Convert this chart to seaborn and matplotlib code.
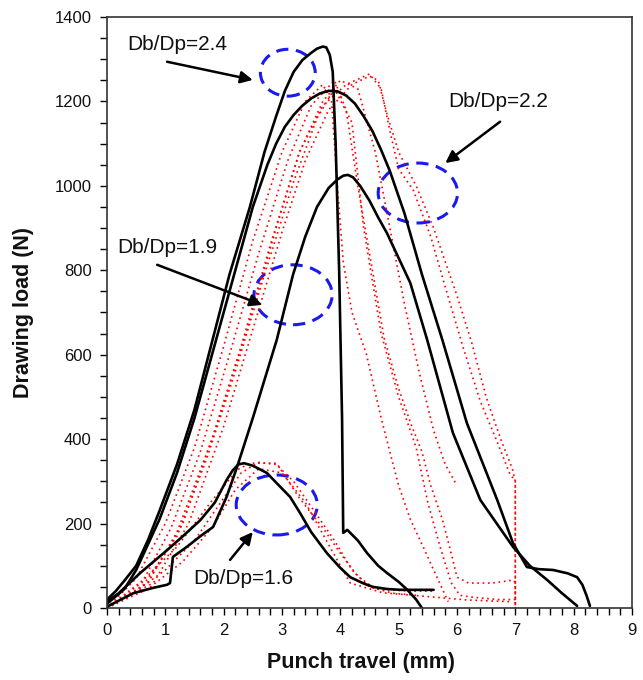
import matplotlib
matplotlib.use("Agg")
import matplotlib.pyplot as plt
from matplotlib.patches import Ellipse
from matplotlib.ticker import MultipleLocator
import seaborn as sns

# simulated curves (black, solid)
b24_x = [0, 0.15, 0.3, 0.5, 0.7, 0.9, 1.2, 1.5, 1.8, 2.1, 2.45, 2.7, 2.9, 3.05, 3.2, 3.35, 3.5, 3.6, 3.7, 3.76, 3.82,
         3.87, 3.92, 3.98, 4.03, 4.05, 4.12, 4.3, 4.46, 4.65, 4.8, 5.0, 5.15, 5.3, 5.4]
b24_y = [20, 40, 65, 100, 160, 230, 340, 470, 630, 790, 950, 1080, 1165, 1225, 1270, 1298, 1315, 1325, 1330, 1328, 1310,
         1270, 1100, 800, 450, 178, 185, 160, 130, 100, 83, 62, 43, 20, 0]

b22_x = [0, 0.3, 0.5, 0.9, 1.2, 1.5, 1.9, 2.2, 2.5, 2.75, 2.9, 3.05, 3.2, 3.35, 3.5, 3.65, 3.8, 3.95, 4.1, 4.25, 4.4,
         4.55, 4.7, 4.85, 5.1, 5.4, 5.75, 6.17, 6.69, 6.96, 7.2, 7.4, 7.65, 7.9, 8.06, 8.15, 8.22, 8.28]
b22_y = [10, 45, 90, 210, 320, 450, 650, 800, 950, 1050, 1100, 1140, 1168, 1190, 1207, 1219, 1225, 1224, 1214, 1195, 1165,
         1130, 1085, 1035, 935, 790, 635, 438, 256, 154, 97, 92, 90, 82, 73, 55, 30, 5]

b19_x = [0, 0.45, 0.8, 1.03, 1.08, 1.13, 1.37, 1.6, 1.82, 2.05, 2.23, 2.5, 2.91, 3.19, 3.4, 3.6, 3.8, 3.95, 4.05, 4.13,
         4.22, 4.34, 4.5, 4.65, 4.8, 5.2, 5.49, 5.93, 6.4, 6.96, 7.25, 7.55, 7.8, 8.06]
b19_y = [3, 35, 48, 55, 59, 121, 145, 170, 192, 263, 334, 450, 635, 790, 880, 950, 995, 1015, 1024, 1026,
         1020, 1000, 965, 925, 888, 770, 635, 415, 256, 145, 100, 66, 35, 5]

b16_x = [0, 0.2, 0.57, 1.03, 1.3, 1.6, 1.85, 2.05, 2.15, 2.25, 2.35, 2.5, 2.74, 2.95, 3.14, 3.31, 3.5, 3.77, 4.0, 4.17,
         4.4, 4.56, 4.8, 5.03, 5.6]
b16_y = [15, 35, 83, 137, 170, 208, 250, 303, 325, 340, 343, 337, 320, 290, 263, 225, 180, 130, 95, 73,
         58, 50, 45, 43, 43]

# experimental curves (red, dotted)
h1_x = [0, 0.5, 1.0, 1.5, 2.0, 2.5, 3.0, 3.4, 3.7, 3.85, 3.95, 4.05, 4.2, 4.45, 4.7, 4.85, 5.0, 5.2, 5.42, 5.6, 5.75, 5.85]
h1_y = [0, 70, 200, 380, 620, 870, 1080, 1200, 1240, 1200, 1000, 820, 700, 600, 450, 370, 290, 210, 145, 90, 45, 15]

h2_x = [0, 0.6, 1.1, 1.6, 2.1, 2.6, 3.1, 3.5, 3.9, 4.1, 4.3, 4.55, 4.75, 5.0, 5.2, 5.4, 5.55, 5.75, 5.9, 6.0, 6.2, 6.6,
        6.96, 7.0, 7.0]
h2_y = [0, 60, 190, 370, 600, 840, 1060, 1190, 1250, 1180, 1000, 800, 640, 520, 440, 370, 290, 210, 130, 73, 59, 59,
        66, 60, 0]

h3_x = [0, 0.7, 1.2, 1.8, 2.3, 2.8, 3.3, 3.7, 4.0, 4.3, 4.6, 4.85, 5.1, 5.35, 5.6, 5.8, 6.0]
h3_y = [0, 60, 180, 400, 620, 860, 1080, 1200, 1250, 1230, 1080, 900, 720, 560, 420, 340, 290]

h4_x = [0, 0.7, 1.3, 1.9, 2.4, 2.9, 3.3, 3.7, 4.1, 4.5, 4.7, 4.85, 5.0, 5.25, 5.55, 5.8, 6.1, 6.4, 6.7, 6.9, 7.0, 7.0]
h4_y = [0, 60, 200, 440, 660, 900, 1080, 1190, 1240, 1265, 1230, 1130, 1040, 990, 880, 760, 620, 490, 390, 320, 300, 0]

h5_x = [0, 0.8, 1.4, 2.0, 2.5, 3.0, 3.4, 3.8, 4.2, 4.5, 4.65, 4.8, 5.0, 5.3, 5.6, 5.8, 6.0, 6.25, 6.5, 6.75, 6.95, 7.0,
        7.0]
h5_y = [0, 60, 200, 430, 660, 890, 1060, 1180, 1240, 1260, 1250, 1170, 1080, 1000, 900, 820, 740, 630, 500, 400, 330, 300,
        0]

h6_x = [0, 0.6, 1.2, 1.7, 2.2, 2.7, 3.2, 3.6, 3.9, 4.2, 4.4, 4.7, 5.0, 5.3, 5.5, 5.7, 5.9, 6.05, 6.3, 6.7, 7.0]
h6_y = [0, 50, 170, 350, 560, 790, 1010, 1160, 1230, 1150, 900, 650, 500, 380, 250, 150, 60, 30, 25, 20, 20]

l1_x = [0, 0.5, 1.0, 1.5, 2.0, 2.3, 2.6, 2.9, 3.2, 3.5, 3.9, 4.2, 4.5, 4.9, 5.3]
l1_y = [0, 40, 90, 160, 260, 320, 345, 340, 300, 240, 160, 90, 50, 35, 30]

l2_x = [0, 0.62, 1.2, 1.77, 2.23, 2.45, 2.91, 3.3, 3.7, 4.0, 4.3, 4.6, 5.2, 5.6]
l2_y = [0, 66, 145, 249, 327, 343, 343, 260, 190, 130, 75, 45, 40, 40]

l3_x = [0, 0.7, 1.3, 1.8, 2.2, 2.6, 3.0, 3.4, 3.8, 4.17, 4.73, 5.59, 6.17, 6.9]
l3_y = [0, 45, 110, 190, 280, 330, 320, 250, 150, 59, 36, 26, 19, 15]

black = [(b24_x, b24_y), (b22_x, b22_y), (b19_x, b19_y), (b16_x, b16_y)]
red = [(h1_x, h1_y), (h2_x, h2_y), (h3_x, h3_y), (h4_x, h4_y), (h5_x, h5_y), (h6_x, h6_y),
       (l1_x, l1_y), (l2_x, l2_y), (l3_x, l3_y)]

# (label, text x, text y, arrow tail, arrow head, ellipse centre, ellipse w, ellipse h)
notes = [
    ("Db/Dp=2.4", 1.2, 1334, (1.03, 1294), (2.5, 1251), (3.1, 1268), 0.94, 111),
    ("Db/Dp=2.2", 6.71, 1199, (6.74, 1152), (5.8, 1054), (5.33, 983), 1.36, 142),
    ("Db/Dp=1.9", 1.03, 853, (0.86, 813), (2.66, 718), (3.19, 742), 1.34, 142),
    ("Db/Dp=1.6", 2.33, 71, (2.11, 114), (2.5, 180), (2.91, 244), 1.39, 142),
]

sns.set_style("ticks")
plt.rcParams['font.family'] = ['Liberation Sans', 'DejaVu Sans']

fig = plt.figure(figsize=(6.43, 6.8), dpi=100)
ax = fig.add_axes([0.1664, 0.1059, 0.8164, 0.8691])

for xs, ys in red:
    sns.lineplot(x=xs, y=ys, ax=ax, sort=False, estimator=None, color="red",
                 linewidth=1.2, linestyle=(0, (1, 2.2)))
for xs, ys in black:
    sns.lineplot(x=xs, y=ys, ax=ax, sort=False, estimator=None, color="black", linewidth=1.9)

for label, tx, ty, tail, head, c, w, h in notes:
    ax.add_patch(Ellipse(c, w, h, fill=False, edgecolor="#1a1aee", linewidth=2.2, linestyle=(0, (4, 2.5))))
    ax.annotate("", xy=head, xytext=tail,
                arrowprops=dict(arrowstyle="-|>", color="black", lw=1.8, mutation_scale=18,
                                shrinkA=0, shrinkB=0))
    ax.text(tx, ty, label, ha="center", va="center", fontsize=15, color="#111111")

ax.set_xlim(0, 9)
ax.set_ylim(0, 1400)
ax.xaxis.set_major_locator(MultipleLocator(1))
ax.xaxis.set_minor_locator(MultipleLocator(0.2))
ax.yaxis.set_major_locator(MultipleLocator(200))
ax.yaxis.set_minor_locator(MultipleLocator(50))
ax.tick_params(which="both", direction="out", length=5, width=1, labelsize=12, pad=6,
               color="black", labelcolor="#111111")
for s in ax.spines.values():
    s.set_linewidth(1.2)
    s.set_color("#333333")

ax.set_xlabel("Punch travel (mm)", fontsize=15.5, fontweight="bold", color="#111111")
ax.set_ylabel("Drawing load (N)", fontsize=15.5, fontweight="bold", color="#111111")
ax.xaxis.set_label_coords(0.483, -0.075)
ax.yaxis.set_label_coords(-0.14, 0.5)

fig.savefig("out.png", dpi=100)
